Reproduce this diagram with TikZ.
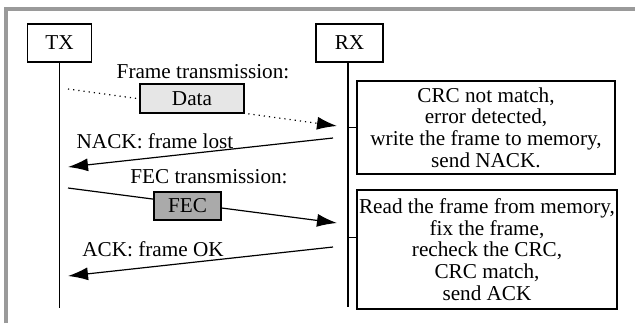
\documentclass[tikz,border=0pt]{standalone}
\usepackage{fontspec}
\setmainfont{Liberation Serif}
\usetikzlibrary{arrows.meta,positioning}
\definecolor{framegray}{HTML}{9A9A9A}
\definecolor{datagray}{HTML}{E6E6E6}
\definecolor{fecgray}{HTML}{AAAAAA}
\begin{document}
\begin{tikzpicture}[x=0.5pt, y=-0.5pt, line width=0.6pt,
		font=\fontsize{10.6}{10.8}\selectfont,
		actor/.style={draw, inner sep=0pt, minimum width=32pt, minimum height=19pt},
		msg/.style={draw, inner sep=0pt, minimum height=14.5pt},
		note/.style={draw, fill=white, align=center, inner sep=0pt, minimum width=129pt},
		arrow/.style={-{Latex[length=10pt, width=6.5pt]}}]
		\useasboundingbox (0,0) rectangle (635,323);

		% outer frame (only top and left edges visible)
		\draw [framegray, line width=2pt] (6,323) -- (6,9) -- (635,9);

		% lifelines
		\node (tx) at (59.5,43) [actor] {TX};
		\node (rx) at (349.5,43) [actor, minimum width=33.5pt] {RX};
		\coordinate (txend) at (60,308);
		\coordinate (rxend) at (348,307);
		\draw (tx.south) -- (tx.south |- txend);
		\draw (rx.south -| rxend) -- (rxend);

		% receiver notes
		\node (note1) at (486,127.5) [note, minimum height=46.5pt] {CRC not match,\\error detected,\\write the frame to memory,\\send NACK.};
		\node (note2) at (487,249.5) [note, minimum width=130pt, minimum height=59.5pt] {Read the frame from memory,\\fix the frame,\\recheck the CRC,\\CRC match,\\send ACK};
		\draw (note1.west) -- (note1.west -| rxend);
		\draw ([yshift=6pt]note2.west) -- ([yshift=6pt]note2.west -| rxend);

		% data frame
		\coordinate (data0) at (68,89);
		\coordinate (data1) at (337,126);
		\draw [arrow, dotted] (data0) -- (data1);
		\node (data) at (192,98.5) [msg, fill=datagray, minimum width=52pt] {Data};
		\node (datalbl) at (203,72) {Frame transmission:};

		% nack
		\coordinate (nack0) at (333,138);
		\coordinate (nack1) at (68,167);
		\draw [arrow] (nack0) -- (nack1);
		\node (nacklbl) at (155,141) {NACK: frame lost};

		% fec frame
		\coordinate (fec0) at (68,188);
		\coordinate (fec1) at (337,223);
		\draw [arrow] (fec0) -- (fec1);
		\node (fec) at (187.5,206) [msg, fill=fecgray, minimum width=33.5pt, minimum height=14pt] {FEC};
		\node (feclbl) at (209,177) {FEC transmission:};

		% ack
		\coordinate (ack0) at (333,247);
		\coordinate (ack1) at (68,276);
		\draw [arrow] (ack0) -- (ack1);
		\node (acklbl) at (153,249) {ACK: frame OK};
	\end{tikzpicture}
\end{document}
